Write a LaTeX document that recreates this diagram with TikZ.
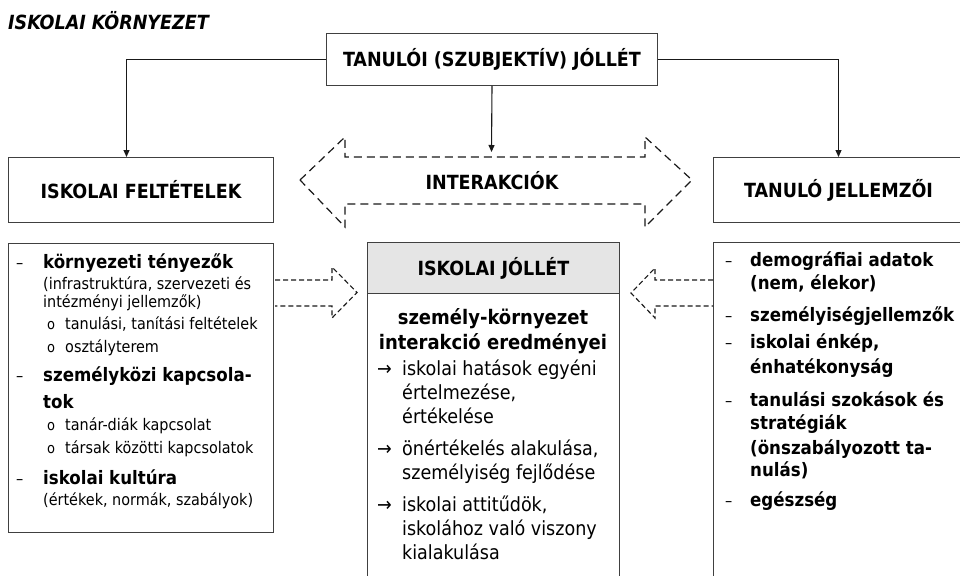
\documentclass[tikz,border=0pt]{standalone}
\usepackage{fontspec}
\setmainfont{DejaVu Sans Condensed}
\usetikzlibrary{arrows.meta}
\tikzset{
  box/.style={draw=black!75, line width=1pt, rectangle, inner sep=0pt, anchor=north west},
  hd/.style={font=\fontsize{19.5}{22}\selectfont\bfseries},
  conn/.style={draw=black!90, line width=1.1pt, -{Triangle[length=7pt,width=6pt]}},
  dsh/.style={draw=black!90, line width=1.2pt, dash pattern=on 8pt off 5pt, line join=miter},
  dshs/.style={draw=black!90, line width=1.1pt, dash pattern=on 5pt off 3pt, line join=miter},
  lt/.style={anchor=base west, inner sep=0pt, font=\fontsize{16}{19}\selectfont},
  lb/.style={anchor=base west, inner sep=0pt, font=\fontsize{18.5}{21}\selectfont\bfseries},
  ls/.style={anchor=base west, inner sep=0pt, font=\fontsize{14.5}{16}\selectfont},
  cb/.style={anchor=base, inner sep=0pt, font=\fontsize{20}{23}\selectfont\bfseries},
  ct/.style={anchor=base west, inner sep=0pt, font=\fontsize{19.5}{23}\selectfont},
  rb/.style={anchor=base west, inner sep=0pt, font=\fontsize{18.5}{21}\selectfont\bfseries},
  rd/.style={anchor=base west, inner sep=0pt, font=\fontsize{16}{19}\selectfont},
}
\begin{document}
\begin{tikzpicture}[x=1pt,y=-1pt]
\fill[white] (0,0) rectangle (960,575);
\useasboundingbox (0,0) rectangle (960,575);

% title
\node[anchor=base west, inner sep=0pt, font=\fontsize{19.5}{22}\selectfont\bfseries\itshape] (title) at (8,30) {ISKOLAI KÖRNYEZET};

% top box
\node[box, hd, minimum width=331pt, minimum height=52pt] (top) at (326,33) {TANULÓI (SZUBJEKTÍV) JÓLLÉT};

% heading boxes
\node[box, hd, minimum width=265pt, minimum height=65pt] (lhead) at (8,157) {ISKOLAI FELTÉTELEK};
\node[box, hd, minimum width=250pt, minimum height=65pt] (rhead) at (713,157) {TANULÓ JELLEMZŐI};

% list boxes
\node[box, minimum width=265pt, minimum height=289pt] (lbox) at (8,243) {};
\node[box, minimum width=252pt, minimum height=345pt] (cbox) at (367,242) {};
\node[box, hd, fill=black!10, minimum width=252pt, minimum height=51pt] (chead) at (367,242) {ISKOLAI JÓLLÉT};
\node[box, minimum width=250pt, minimum height=345pt] (rbox) at (713,242) {};

% connectors
\coordinate (imid) at (491.5,152);
\draw[conn] (top.west) -| ([xshift=-14.5pt]lhead.north);
\draw[conn] (top.east) -| (rhead.north);
\draw[conn] (top.south) -- (imid);

% big dashed double arrow
\draw[dsh] (300,180) -- (345,137) -- (345,157) -- (645,157) -- (645,137) -- (692,180)
  -- (645,227) -- (645,204) -- (345,204) -- (345,227) -- cycle;
\node[hd, inner sep=0pt] (inter) at (492,181) {INTERAKCIÓK};

% small dashed arrows
\draw[dshs] (275,280) -- (332,280) -- (332,267) -- (357,292.5) -- (332,318) -- (332,306) -- (275,306);
\draw[dshs] (713,280) -- (655,280) -- (655,268) -- (631,293) -- (655,318) -- (655,306) -- (713,306);

% left list
\node[lt] (l0) at (16,268) {–};
\node[lb] (l1) at (43,268) {környezeti tényezők};
\node[lt] (l2) at (43,289) {(infrastruktúra, szervezeti és};
\node[lt] (l3) at (43,307) {intézményi jellemzők)};
\node[ls] (l4b) at (47,329) {o};
\node[lt] (l4) at (65,329) {tanulási, tanítási feltételek};
\node[ls] (l5b) at (47,352) {o};
\node[lt] (l5) at (65,352) {osztályterem};
\node[lt] (l6d) at (16,381) {–};
\node[lb] (l6) at (43,381) {személyközi kapcsola-};
\node[lb] (l7) at (43,408) {tok};
\node[ls] (l8b) at (47,430) {o};
\node[lt] (l8) at (65,430) {tanár-diák kapcsolat};
\node[ls] (l9b) at (47,453) {o};
\node[lt] (l9) at (65,453) {társak közötti kapcsolatok};
\node[lt] (l10d) at (16,484) {–};
\node[lb] (l10) at (43,484) {iskolai kultúra};
\node[lt] (l11) at (43,505) {(értékek, normák, szabályok)};

% centre list
\node[cb] (c1) at (493,324) {személy-környezet};
\node[cb] (c2) at (493,349) {interakció eredményei};
\node[ct] (c3a) at (377,375) {→};
\node[ct] (c3) at (402,375) {iskolai hatások egyéni};
\node[ct] (c4) at (402,399) {értelmezése,};
\node[ct] (c5) at (402,423) {értékelése};
\node[ct] (c6a) at (377,455) {→};
\node[ct] (c6) at (402,455) {önértékelés alakulása,};
\node[ct] (c7) at (402,479) {személyiség fejlődése};
\node[ct] (c8a) at (377,511) {→};
\node[ct] (c8) at (402,511) {iskolai attitűdök,};
\node[ct] (c9) at (402,535) {iskolához való viszony};
\node[ct] (c10) at (402,559) {kialakulása};

% right list
\node[rd] (r1d) at (725,266) {–};
\node[rb] (r1) at (750,266) {demográfiai adatok};
\node[rb] (r2) at (750,289) {(nem, élekor)};
\node[rd] (r3d) at (725,321) {–};
\node[rb] (r3) at (750,321) {személyiségjellemzők};
\node[rd] (r4d) at (725,348) {–};
\node[rb] (r4) at (750,348) {iskolai énkép,};
\node[rb] (r5) at (750,373) {énhatékonyság};
\node[rd] (r6d) at (725,406) {–};
\node[rb] (r6) at (750,406) {tanulási szokások és};
\node[rb] (r7) at (750,429) {stratégiák};
\node[rb] (r8) at (750,454) {(önszabályozott ta-};
\node[rb] (r9) at (750,476) {nulás)};
\node[rd] (r10d) at (725,506) {–};
\node[rb] (r10) at (750,506) {egészség};
\end{tikzpicture}
\end{document}
